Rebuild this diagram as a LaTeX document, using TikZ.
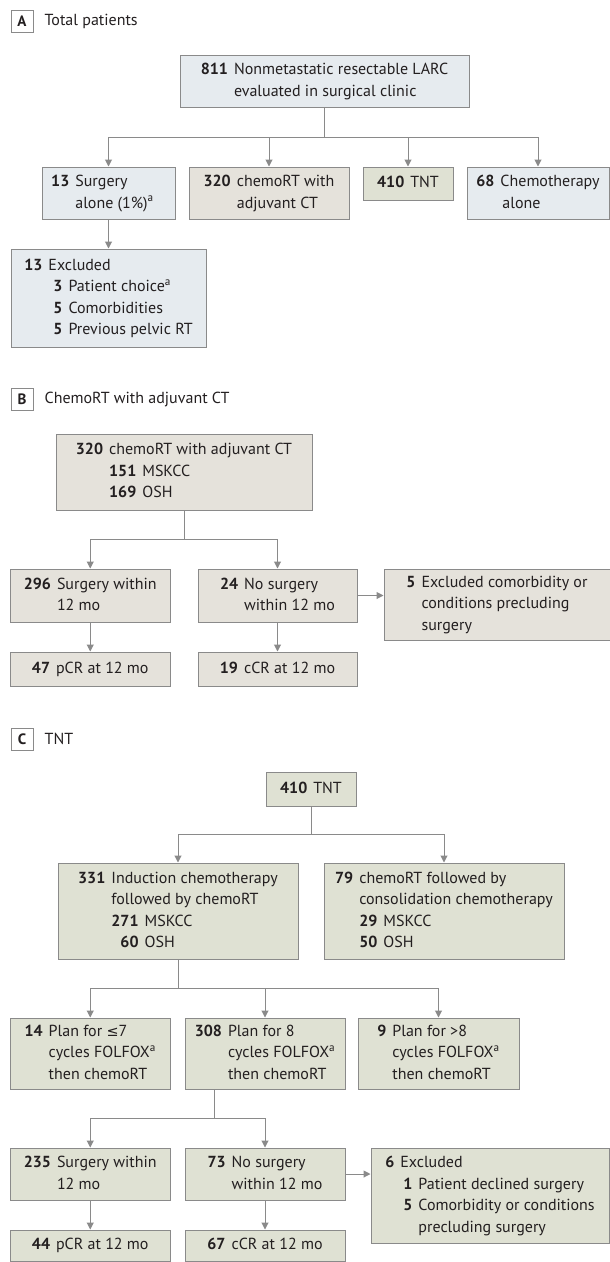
\documentclass[tikz,border=0pt]{standalone}
\usepackage{fontspec}
\setmainfont{PT Sans}
\newfontfamily\symfont{DejaVu Sans}[Scale=0.9]
\usepackage{array}
\usetikzlibrary{arrows.meta,positioning,calc}
\definecolor{boxBlue}{RGB}{230,235,239}
\definecolor{boxWarm}{RGB}{229,226,219}
\definecolor{boxGreen}{RGB}{223,225,211}
\definecolor{lineGrey}{RGB}{138,138,138}
\definecolor{textDark}{RGB}{35,31,32}
\newcolumntype{N}{>{\bfseries}r}
\newcolumntype{T}{@{}N@{\hspace{6pt}}l@{}}
\newcommand{\subrow}[3][0pt]{\hspace{#1}\textbf{#2}\hspace{6pt}#3}
\tikzset{every node/.style={font=\fontsize{16}{21.5}\selectfont,text=textDark},
		dims/.style 2 args={minimum width=#1pt,minimum height=#2pt},
		box/.style={rectangle,draw=lineGrey,line width=1pt,inner sep=0pt},
		boxA/.style={box,fill=boxBlue},
		boxB/.style={box,fill=boxWarm},
		boxC/.style={box,fill=boxGreen},
		panel/.style={rectangle,draw=lineGrey,line width=0.9pt,fill=white,
		              minimum size=22pt,inner sep=0pt,
		              font=\fontsize{15}{18}\selectfont\bfseries},
		panelText/.style={inner sep=0pt},
		link/.style={draw=lineGrey,line width=1pt},
		Dlink/.style={link,-{Triangle[width=7pt,length=7pt]}}}

\begin{document}
\begin{tikzpicture}[x=1pt,y=-1pt]
\useasboundingbox (0,0) rectangle (610,1262);

% A
\node[panel] (labA) at (22,21) {A};
\node[panelText,right=11pt of labA] (titA) {Total patients};
\node[boxA,dims={289}{52}] (top) at (324.5,81) {\begin{tabular}{T}811 & Nonmetastatic resectable LARC\\ & evaluated in surgical clinic\end{tabular}};
\node[boxA,dims={133}{52}] (surg) at (108.5,193) {\begin{tabular}{@{}N@{\hspace{6pt}}l@{\hspace{12pt}}}13 & Surgery\\ & alone (1\%)\textsuperscript{a}\end{tabular}};
\node[boxB,dims={160}{52}] (crt) at (269,193) {\begin{tabular}{T}320 & chemoRT with\\ & adjuvant CT\end{tabular}};
\node[boxC,dims={90}{33}] (tnt) at (408,183.5) {\begin{tabular}{T}410 & TNT\end{tabular}};
\node[boxA,dims={142}{52}] (chemo) at (538,193) {\begin{tabular}{T}68 & Chemotherapy\\ & \hspace{2pt}alone\end{tabular}};
\node[boxA,dims={195}{98}] (excl) at (108.5,298) {\begin{tabular}{T}13 & Excluded\\
 & \subrow[5pt]{3}{Patient choice\textsuperscript{a}}\\
 & \subrow[5pt]{5}{Comorbidities}\\
 & \subrow[5pt]{5}{Previous pelvic RT}\end{tabular}};

\coordinate (jA) at (324.5,137);
\draw[link] (top.south) -- (jA);
\foreach \n in {surg,crt,tnt,chemo}
	\draw[Dlink] (jA) -| (\n.north);
\draw[Dlink] (surg.south) -- (excl.north);

% B
\node[panel] (labB) at (22,399) {B};
\node[panelText,right=11pt of labB] (titB) {ChemoRT with adjuvant CT};
\node[boxB,dims={256}{76}] (b320) at (184,472) {\begin{tabular}{T}320 & chemoRT with adjuvant CT\\
 & \subrow{151}{MSKCC}\\
 & \subrow{169}{OSH}\end{tabular}};
\node[boxB,dims={159.5}{53}] (b296) at (90.25,595.5) {\begin{tabular}{T}296 & Surgery within\\ & 12 mo\end{tabular}};
\node[boxB,dims={159}{53}] (b24) at (277.5,595.5) {\begin{tabular}{T}24 & No surgery\\ & within 12 mo\end{tabular}};
\node[boxB,dims={226}{71}] (b5) at (497,604.5) {\begin{tabular}{T}5 & Excluded comorbidity or\\ & conditions precluding\\ & surgery\end{tabular}};
\node[boxB,dims={159.5}{34}] (b47) at (90.25,669) {\begin{tabular}{T}47 & pCR at 12 mo\end{tabular}};
\node[boxB,dims={159}{34}] (b19) at (277.5,669) {\begin{tabular}{T}19 & cCR at 12 mo\end{tabular}};

\coordinate (jB) at (184,539);
\draw[link] (b320.south) -- (jB);
\draw[Dlink] (jB) -| (b296.north);
\draw[Dlink] (jB) -| (b24.north);
\draw[Dlink] (b24.east) -- (b24.east -| b5.west);
\draw[Dlink] (b296.south) -- (b47.north);
\draw[Dlink] (b24.south) -- (b19.north);

% C
\node[panel] (labC) at (22,739) {C};
\node[panelText,right=11pt of labC] (titC) {TNT};
\node[boxC,dims={90}{34}] (c410) at (311,789) {\begin{tabular}{T}410 & TNT\end{tabular}};
\node[boxC,dims={240}{96}] (c331) at (178,911) {\begin{tabular}{T}331 & Induction chemotherapy\\
 & followed by chemoRT\\
 & \subrow{271}{MSKCC}\\
 & \subrow{\phantom{2}60}{OSH}\end{tabular}};
\node[boxC,dims={240}{96}] (c79) at (444,911) {\begin{tabular}{T}79 & chemoRT followed by\\
 & consolidation chemotherapy\\
 & \subrow{29}{MSKCC}\\
 & \subrow{50}{OSH}\end{tabular}};
\node[boxC,dims={159.5}{71}] (c14) at (90.25,1053.5) {\begin{tabular}{T}14 & Plan for {\symfont ≤}7\\ & cycles FOLFOX\textsuperscript{a}\\ & then chemoRT\end{tabular}};
\node[boxC,dims={160}{71}] (c308) at (265,1053.5) {\begin{tabular}{T}308 & Plan for 8\\ & cycles FOLFOX\textsuperscript{a}\\ & then chemoRT\end{tabular}};
\node[boxC,dims={161}{71}] (c9) at (438.5,1053.5) {\begin{tabular}{T}9 & Plan for >8\\ & cycles FOLFOX\textsuperscript{a}\\ & then chemoRT\end{tabular}};
\node[boxC,dims={159.5}{52}] (c235) at (90.25,1174) {\begin{tabular}{T}235 & Surgery within\\ & 12 mo\end{tabular}};
\node[boxC,dims={160}{52}] (c73) at (265,1174) {\begin{tabular}{T}73 & No surgery\\ & within 12 mo\end{tabular}};
\node[boxC,dims={238}{95}] (c6) at (490,1195.5) {\begin{tabular}{T}6 & Excluded\\
 & \subrow[3pt]{1}{Patient declined surgery}\\
 & \subrow[3pt]{5}{Comorbidity or conditions}\\
 & \subrow[3pt]{\phantom{5}}{precluding surgery}\end{tabular}};
\node[boxC,dims={159.5}{31}] (c44) at (90.25,1245.5) {\begin{tabular}{T}44 & pCR at 12 mo\end{tabular}};
\node[boxC,dims={160}{31}] (c67) at (265,1245.5) {\begin{tabular}{T}67 & cCR at 12 mo\end{tabular}};

\coordinate (jC) at (311,834);
\coordinate (jD) at (178,988);
\coordinate (jE) at (214,1118);
\draw[link] (c410.south) -- (jC);
\draw[Dlink] (jC) -| (c331.north);
\draw[Dlink] (jC) -| (c79.north);
\draw[link] (c331.south) -- (jD);
\foreach \n in {c14,c308,c9}
	\draw[Dlink] (jD) -| (\n.north);
\draw[link] (c308.south -| jE) -- (jE);
\draw[Dlink] (jE) -| (c235.north);
\draw[Dlink] (jE) -| (c73.north);
\draw[Dlink] (c73.east) -- (c73.east -| c6.west);
\draw[Dlink] (c235.south) -- (c44.north);
\draw[Dlink] (c73.south) -- (c67.north);
\end{tikzpicture}
\end{document}
